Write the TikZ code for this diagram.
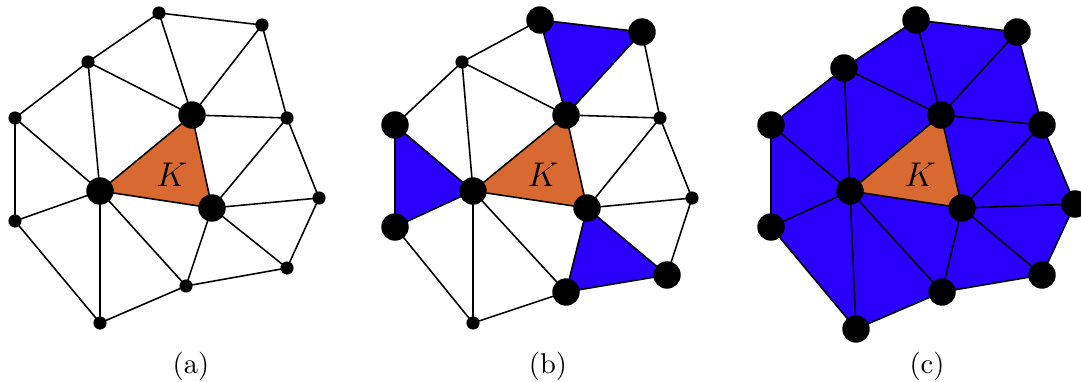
\documentclass[tikz,border=0pt]{standalone}
\usetikzlibrary{backgrounds}
\definecolor{kor}{RGB}{216,105,48}
\definecolor{mblue}{RGB}{42,0,250}
\begin{document}
\begin{tikzpicture}[x=0.35pt,y=-0.35pt,
  smalldot/.style={circle,fill=black,inner sep=0pt,minimum size=4.6pt},
  bigdot/.style={circle,fill=black,inner sep=0pt,minimum size=9.6pt},
  meshedge/.style={line width=0.55pt,line cap=round},
  klabel/.style={font=\large},
  caption/.style={font=\normalsize}]
\useasboundingbox (0,0) rectangle (1081,382);
% panel (a)
\foreach \n/\x/\y/\s in {1/159/13/smalldot,2/262/25/smalldot,3/88/62/smalldot,4/192/115/bigdot,5/287/118/smalldot,6/15/118/smalldot,7/100/191/bigdot,8/212/208/bigdot,9/319/198/smalldot,10/15/221/smalldot,11/287/268/smalldot,12/186/286/smalldot,13/100/323/smalldot}
  \node[style=\s] (a\n) at (\x,\y) {};
% panel (b)
\foreach \n/\x/\y/\s in {1/540/20/bigdot,2/642/32/bigdot,3/462/62/smalldot,4/566/115/bigdot,5/660/118/smalldot,6/395/125/bigdot,7/473/191/bigdot,8/587/208/bigdot,9/692/198/smalldot,10/395/227/bigdot,11/667/275/bigdot,12/566/292/bigdot,13/473/323/smalldot}
  \node[style=\s] (b\n) at (\x,\y) {};
% panel (c)
\foreach \n/\x/\y in {1/916/20,2/1017/32,3/844/68,4/941/115,5/1042/125,6/771/125,7/850/191,8/962/208,9/1075/204,10/771/227,11/1042/275,12/942/292,13/856/329}
  \node[bigdot] (c\n) at (\x,\y) {};
\begin{scope}[on background layer]
  % fills
  \fill[kor] (a4.center) -- (a7.center) -- (a8.center) -- cycle;
  \fill[mblue] (b1.center) -- (b2.center) -- (b4.center) -- cycle;
  \fill[mblue] (b6.center) -- (b7.center) -- (b10.center) -- cycle;
  \fill[mblue] (b8.center) -- (b11.center) -- (b12.center) -- cycle;
  \fill[kor] (b4.center) -- (b7.center) -- (b8.center) -- cycle;
  \fill[mblue] (c6.center) -- (c3.center) -- (c1.center) -- (c2.center) -- (c5.center) -- (c9.center) -- (c11.center) -- (c12.center) -- (c13.center) -- (c10.center) -- cycle;
  \fill[kor] (c4.center) -- (c7.center) -- (c8.center) -- cycle;
  % edges
  \foreach \p in {a,b,c}
    \foreach \u/\v in {1/2,1/3,1/4,2/4,2/5,3/4,3/6,3/7,4/5,4/7,4/8,5/8,5/9,6/7,6/10,7/10,7/8,7/12,7/13,10/13,8/9,8/11,8/12,9/11,11/12,12/13}
      \draw[meshedge] (\p\u.center) -- (\p\v.center);
\end{scope}
\node[klabel] (ka) at (172,175) {$K$};
\node[klabel] (kb) at (543,175) {$K$};
\node[klabel] (kc) at (920,175) {$K$};
\node[caption] (la) at (191,366) {(a)};
\node[caption] (lb) at (548,366) {(b)};
\node[caption] (lc) at (927,366) {(c)};
\end{tikzpicture}
\end{document}
